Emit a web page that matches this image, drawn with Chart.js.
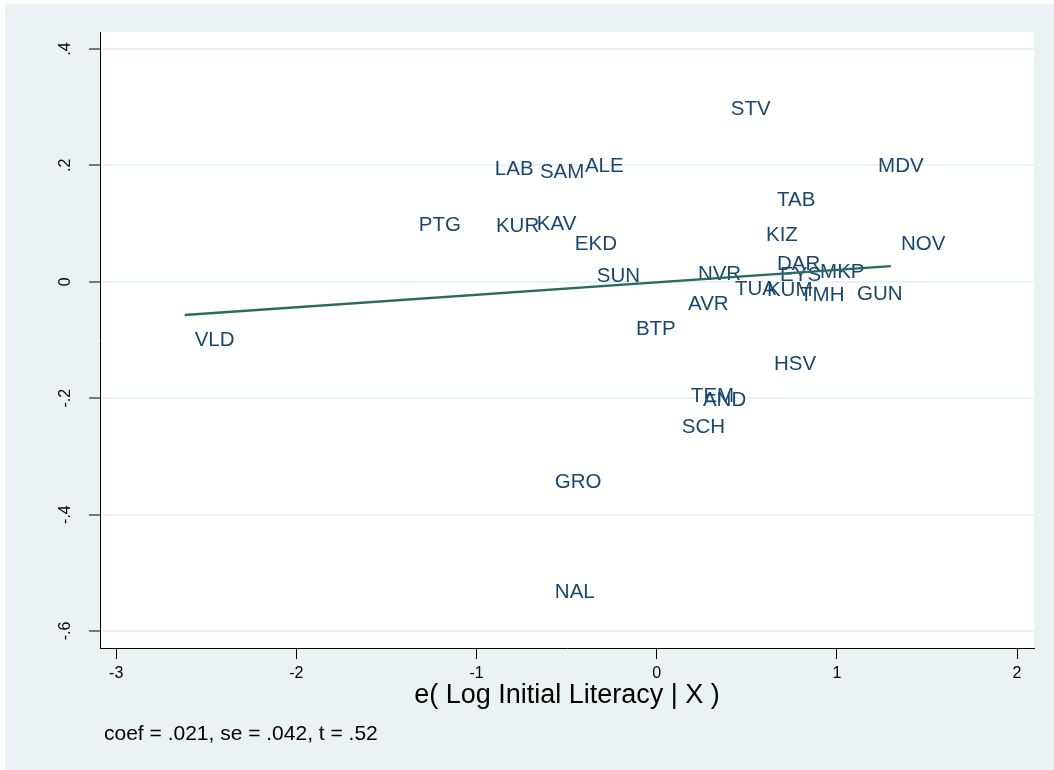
<!DOCTYPE html>
<html>
<head>
<meta charset="utf-8">
<script src="https://cdn.jsdelivr.net/npm/chart.js@4.4.1/dist/chart.umd.min.js"></script>
<style>
  html, body { margin: 0; padding: 0; background: #ffffff; }
  #wrap { width: 1054px; height: 770px; }
</style>
</head>
<body>
<div id="wrap"><canvas id="avplot" width="1054" height="770"></canvas></div>
<script>
// region codes and their residual pairs
const regions = ['STV', 'LAB', 'SAM', 'ALE', 'MDV', 'TAB', 'PTG', 'KUR', 'KAV', 'EKD',
    'KIZ', 'NOV', 'DAR', 'EYS', 'MKP', 'NVR', 'SUN', 'TUA', 'KUM', 'TMH',
    'GUN', 'AVR', 'BTP', 'VLD', 'HSV', 'TEM', 'AND', 'SCH', 'GRO', 'NAL'];
const literacyResid = [0.356, -0.954, -0.704, -0.454, 1.173, 0.612, -1.376, -0.948, -0.721, -0.510,
    0.551, 1.300, 0.612, 0.629, 0.851, 0.173, -0.388, 0.379, 0.556, 0.740,
    1.056, 0.118, -0.171, -2.620, 0.595, 0.134, 0.201, 0.084, -0.621, -0.621];
const outcomeResid = [0.299, 0.196, 0.192, 0.201, 0.201, 0.144, 0.101, 0.098, 0.103, 0.068,
    0.084, 0.067, 0.034, 0.015, 0.020, 0.017, 0.012, -0.009, -0.011, -0.019,
    -0.018, -0.035, -0.079, -0.097, -0.138, -0.194, -0.201, -0.246, -0.341, -0.530];

// fitted line end points
const fitX = [-2.620, 1.300];
const fitY = [-0.057, 0.027];

const xTicks = [-3, -2, -1, 0, 1, 2];
const xTickLabels = ['-3', '-2', '-1', '0', '1', '2'];
const yTicks = [0.4, 0.2, 0, -0.2, -0.4, -0.6];
const yTickLabels = ['.4', '.2', '0', '-.2', '-.4', '-.6'];

const xTitle = 'e( Log Initial Literacy | X )';
const note = 'coef = .021, se = .042, t = .52';

const FONT = '"Liberation Sans", Arial, Helvetica, sans-serif';
const BG = '#eaf2f3';
const LABEL_COLOR = '#1a476f';
const LINE_COLOR = '#2a6b5c';

const backdrop = {
    id: 'backdrop',
    beforeDraw: function(chart) {
        const ctx = chart.ctx;
        const a = chart.chartArea;
        ctx.save();
        ctx.fillStyle = '#ffffff';
        ctx.fillRect(0, 0, chart.width, chart.height);
        ctx.fillStyle = BG;
        ctx.fillRect(5, 4, chart.width - 5, chart.height - 4);
        ctx.fillStyle = '#ffffff';
        ctx.fillRect(a.left, a.top, a.right - a.left, a.bottom - a.top);
        ctx.restore();
    }
};

// marker labels sit right of the (invisible) point, like mlabpos(3)
const markerLabels = {
    id: 'markerLabels',
    beforeDatasetsDraw: function(chart) {
        const ctx = chart.ctx;
        const meta = chart.getDatasetMeta(1);
        ctx.save();
        ctx.font = '20.5px ' + FONT;
        ctx.fillStyle = LABEL_COLOR;
        ctx.textAlign = 'left';
        ctx.textBaseline = 'middle';
        meta.data.forEach(function(pt, i) {
            ctx.fillText(regions[i], pt.x + 10, pt.y + 2);
        });
        ctx.restore();
    }
};

const extraText = {
    id: 'extraText',
    afterDraw: function(chart) {
        const ctx = chart.ctx;
        const a = chart.chartArea;
        const ys = chart.scales.y;
        ctx.save();
        ctx.fillStyle = '#000000';
        // rotated y tick labels
        ctx.font = '16px ' + FONT;
        ctx.textAlign = 'center';
        ctx.textBaseline = 'middle';
        yTicks.forEach(function(v, i) {
            ctx.save();
            ctx.translate(66, ys.getPixelForValue(v));
            ctx.rotate(-Math.PI / 2);
            ctx.fillText(yTickLabels[i], 0, 0);
            ctx.restore();
        });
        // axis title
        ctx.font = '27px ' + FONT;
        ctx.fillText(xTitle, (a.left + a.right) / 2, 696);
        // note
        ctx.font = '21px ' + FONT;
        ctx.textAlign = 'left';
        ctx.fillText(note, 104, 734);
        ctx.restore();
    }
};

const pts = literacyResid.map((x, i) => ({x: x, y: outcomeResid[i]}));
const fitPts = fitX.map((x, i) => ({x: x, y: fitY[i]}));

new Chart(document.getElementById('avplot').getContext('2d'), {
    type: 'scatter',
    data: {
        datasets: [
            {
                type: 'line',
                data: fitPts,
                borderColor: LINE_COLOR,
                borderWidth: 2.4,
                pointRadius: 0,
                fill: false,
                order: 0,
            },
            {
                data: pts,
                pointRadius: 0,
                hoverRadius: 0,
                order: 1,
            },
        ],
    },
    options: {
        responsive: false,
        animation: false,
        events: [],
        layout: {padding: {left: 0, top: 32, right: 20, bottom: 0}},
        scales: {
            x: {
                type: 'linear',
                min: -3.09,
                max: 2.094,
                afterBuildTicks: function(scale) {
                    scale.ticks = xTicks.map(v => ({value: v}));
                },
                afterFit: function(scale) {
                    scale.height = 122;
                },
                border: {display: true, color: '#000000', width: 1},
                grid: {
                    drawOnChartArea: false,
                    drawTicks: true,
                    tickLength: 11,
                    tickColor: '#000000',
                    tickWidth: 1,
                },
                ticks: {
                    padding: 5,
                    color: '#000000',
                    font: {family: FONT, size: 16},
                    maxRotation: 0,
                    callback: function(value) {
                        const k = xTicks.indexOf(value);
                        return k >= 0 ? xTickLabels[k] : '';
                    },
                },
            },
            y: {
                type: 'linear',
                min: -0.6292,
                max: 0.4292,
                afterBuildTicks: function(scale) {
                    scale.ticks = yTicks.map(v => ({value: v}));
                },
                afterFit: function(scale) {
                    scale.width = 100;
                },
                border: {display: true, color: '#000000', width: 1},
                grid: {
                    drawOnChartArea: true,
                    color: BG,
                    lineWidth: 2,
                    drawTicks: true,
                    tickLength: 11,
                    tickColor: '#000000',
                    tickWidth: 1,
                },
                ticks: {display: false},
            },
        },
        plugins: {
            legend: {display: false},
            tooltip: {enabled: false},
        },
    },
    plugins: [backdrop, markerLabels, extraText],
});
</script>
</body>
</html>
